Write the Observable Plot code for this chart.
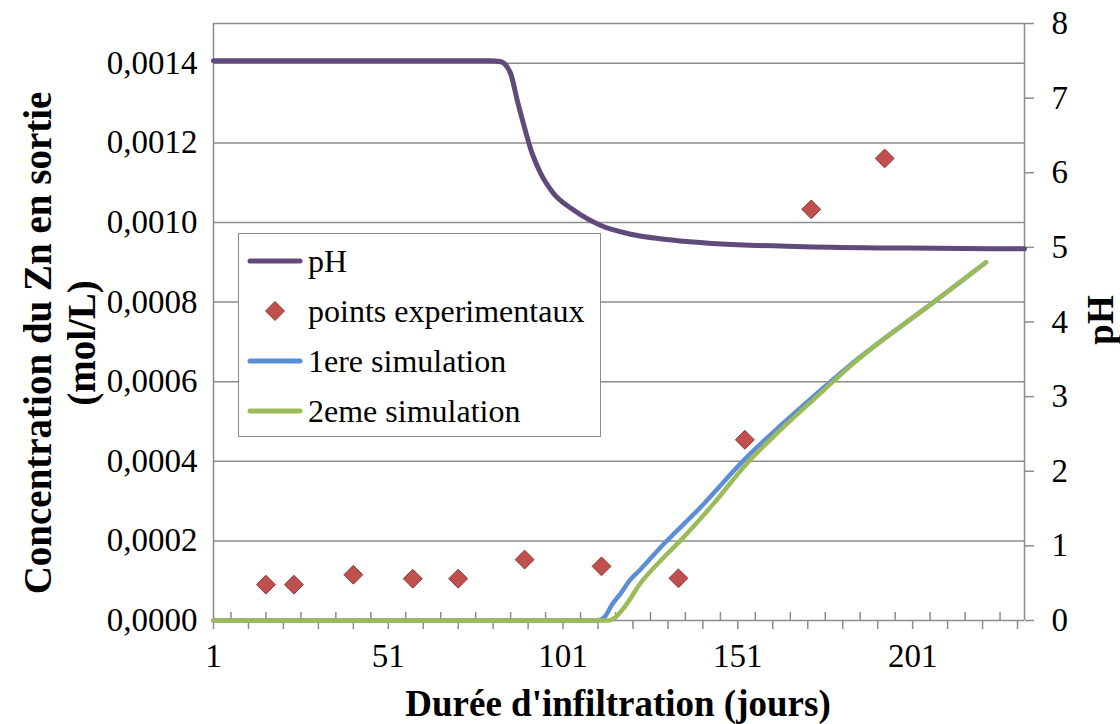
<!DOCTYPE html>
<html><head><meta charset="utf-8">
<script src="https://cdn.jsdelivr.net/npm/d3@7"></script>
<script src="https://cdn.jsdelivr.net/npm/@observablehq/plot@0.6"></script>
<style>
body{margin:0;background:#fff;}
#wrap{position:relative;width:1120px;height:724px;font-family:"Liberation Serif","Times New Roman",serif;color:#000;}
#legend{position:absolute;left:238px;top:233px;width:363px;height:204px;border:1.5px solid #8c8c8c;background:#fff;box-sizing:border-box;}
.lg{position:absolute;left:8px;height:40px;display:flex;align-items:center;font-size:32px;white-space:nowrap;}
.lg svg{width:56px;height:20px;margin-right:5px;flex:none;}
.ttl{position:absolute;font-weight:bold;white-space:nowrap;}
</style>
</head><body>
<div id="wrap"></div>
<script>
// ---- data ----
const xLabelDays = [1, 51, 101, 151, 201];
const concTicks = [0, 0.0002, 0.0004, 0.0006, 0.0008, 0.0010, 0.0012, 0.0014];
const phTicks = [0, 1, 2, 3, 4, 5, 6, 7, 8];
const concMax = 0.0015, phMax = 8, dayMin = 1, dayMax = 233;

const phDays   = [1,   40,  80,  83,   85,   86,   88,   90,  92,   94.5, 98,   104, 112,  120,  130,  145,  170,  200,  233];
const phValues = [7.5, 7.5, 7.5, 7.49, 7.42, 7.33, 6.95, 6.6, 6.28, 6.0,  5.74, 5.5, 5.29, 5.18, 5.11, 5.05, 5.01, 4.99, 4.98];

const expDays = [16, 24, 41, 58, 71, 90, 112, 134, 153, 172, 193];
const expConc = [0.00009, 0.00009, 0.000115, 0.000105, 0.000105, 0.000153, 0.000136, 0.000106, 0.000454, 0.001033, 0.001161];

const sim1Days = [1, 60, 111, 113, 115, 117.5, 120, 123, 130, 139.5, 153.5, 163, 172, 185, 207.5, 222];
const sim1Conc = [0, 0, 0, 0.00001, 0.00004, 0.000068, 0.0001, 0.000127, 0.000194, 0.000277, 0.00041, 0.000488, 0.000558, 0.000655, 0.000803, 0.0009];

const sim2Days = [1, 60, 114, 116, 118.5, 123, 130, 134.5, 144, 153.5, 162, 172, 185, 207.5, 222];
const sim2Conc = [0, 0, 0, 0.000008, 0.000033, 0.000092, 0.00016, 0.0002, 0.000293, 0.000394, 0.000469, 0.00055, 0.000653, 0.000803, 0.0009];

// ---- derived tables ----
const k = concMax / phMax; // pH -> left-axis units
const phData = phDays.map((d, i) => ({day: d, v: phValues[i] * k}));
const expData = expDays.map((d, i) => ({day: d, v: expConc[i]}));
const sim1Data = sim1Days.map((d, i) => ({day: d, v: sim1Conc[i]}));
const sim2Data = sim2Days.map((d, i) => ({day: d, v: sim2Conc[i]}));
const majorDays = d3.range(1, 232, 10);
const minorDays = d3.range(6, 232, 10);

const C = {ph: "#604A7B", exp: "#C0504D", expStroke: "#8C3836", s1: "#5A8ED6", s2: "#9BBB59", grid: "#8c8c8c"};

const chart = Plot.plot({
  width: 1120, height: 724,
  marginLeft: 213, marginRight: 96, marginTop: 23, marginBottom: 104,
  x: {domain: [dayMin, dayMax]},
  y: {domain: [0, concMax]},
  style: {fontFamily: "'Liberation Serif','Times New Roman',serif", fontSize: "32px", color: "#000", background: "transparent"},
  marks: [
    Plot.ruleY(concTicks.slice(1).concat([concMax]), {stroke: C.grid, strokeWidth: 1.5}),
    Plot.ruleX([dayMin, dayMax], {stroke: C.grid, strokeWidth: 1.5}),
    Plot.axisY(concTicks, {anchor: "left", tickSize: 0, tickPadding: 16, fontSize: 33, label: null,
      tickFormat: d => d.toFixed(4).replace(".", ",")}),
    Plot.axisY(phTicks.map(p => p * k), {anchor: "right", tickSize: 9, tickPadding: 18, fontSize: 33, label: null,
      stroke: C.grid, strokeWidth: 1.5, tickFormat: d => String(Math.round(d / k))}),
    Plot.axisX(majorDays, {anchor: "bottom", tickSize: 9, tickPadding: 14, fontSize: 33, label: null,
      stroke: C.grid, strokeWidth: 1.5, tickFormat: d => xLabelDays.includes(d) ? String(d) : ""}),
    Plot.axisX(minorDays, {anchor: "bottom", tickSize: -8, fontSize: 33, label: null,
      stroke: C.grid, strokeWidth: 1.5, tickFormat: () => ""}),
    Plot.ruleY([0], {stroke: C.grid, strokeWidth: 1.5}),
    Plot.line(phData, {x: "day", y: "v", stroke: C.ph, strokeWidth: 5, curve: "monotone-x"}),
    Plot.line(sim1Data, {x: "day", y: "v", stroke: C.s1, strokeWidth: 4.5, curve: "monotone-x"}),
    Plot.line(sim2Data, {x: "day", y: "v", stroke: C.s2, strokeWidth: 4.5, curve: "monotone-x"}),
    Plot.dot(expData, {x: "day", y: "v", symbol: "diamond2", r: 8.5, fill: C.exp, stroke: C.expStroke, strokeWidth: 1})
  ]
});

const wrap = document.getElementById("wrap");
wrap.appendChild(chart);

// axis titles
const yT = document.createElement("div");
yT.className = "ttl";
yT.style.cssText = "left:60px;top:343px;font-size:39px;line-height:44px;text-align:center;transform:translate(-50%,-50%) rotate(-90deg);";
yT.innerHTML = "Concentration du Zn en sortie<br>(mol/L)";
wrap.appendChild(yT);

const xT = document.createElement("div");
xT.className = "ttl";
xT.style.cssText = "left:618px;top:703px;font-size:37px;transform:translate(-50%,-50%);";
xT.textContent = "Durée d'infiltration (jours)";
wrap.appendChild(xT);

const rT = document.createElement("div");
rT.className = "ttl";
rT.style.cssText = "left:1100px;top:320px;font-size:37px;transform:translate(-50%,-50%) rotate(-90deg);";
rT.textContent = "pH";
wrap.appendChild(rT);

// legend
const legendItems = [
  {label: "pH", type: "line", color: C.ph},
  {label: "points experimentaux", type: "dot", color: C.exp},
  {label: "1ere simulation", type: "line", color: C.s1},
  {label: "2eme simulation", type: "line", color: C.s2}
];
const lg = document.createElement("div");
lg.id = "legend";
legendItems.forEach((it, i) => {
  const row = document.createElement("div");
  row.className = "lg";
  row.style.top = (7 + i * 50) + "px";
  const sw = it.type === "line"
    ? `<svg viewBox="0 0 56 20"><line x1="3" y1="10" x2="53" y2="10" stroke="${it.color}" stroke-width="5" stroke-linecap="round"/></svg>`
    : `<svg viewBox="0 0 56 20"><path d="M28,0.5L37.5,10L28,19.5L18.5,10Z" fill="${it.color}" stroke="${C.expStroke}" stroke-width="1"/></svg>`;
  row.innerHTML = sw + `<span>${it.label}</span>`;
  lg.appendChild(row);
});
wrap.appendChild(lg);
</script>
</body></html>
